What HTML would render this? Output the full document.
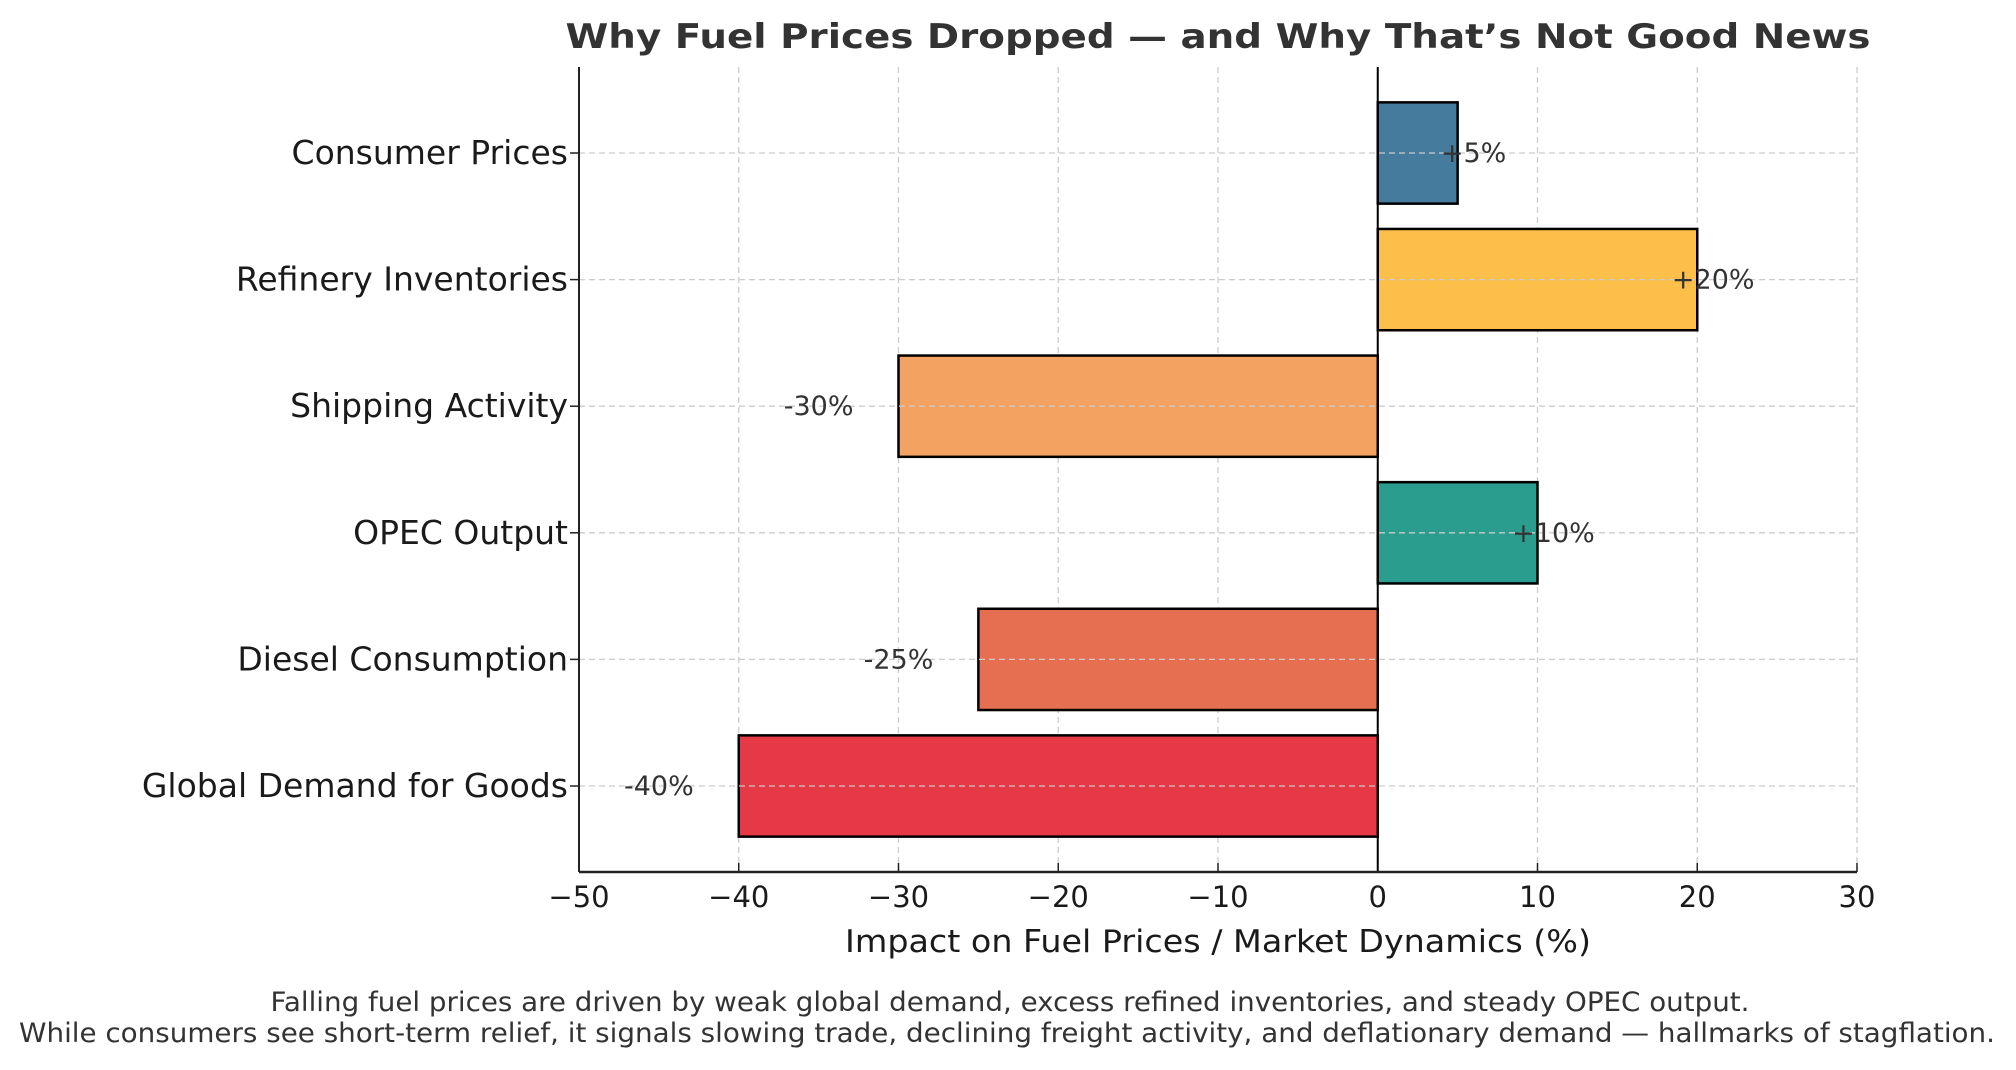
<!DOCTYPE html>
<html><head><meta charset="utf-8"><style>
html,body{margin:0;padding:0;background:#fff;}
svg{display:block;font-family:"DejaVu Sans","Liberation Sans",sans-serif;}
</style></head><body>
<svg id="chart" width="2016" height="1070" viewBox="0 0 2016 1070" xmlns="http://www.w3.org/2000/svg">
<rect width="2016" height="1070" fill="#fff"/>
<text x="1218" y="48" text-anchor="middle" font-size="34" font-weight="bold" fill="#333" textLength="1305" lengthAdjust="spacingAndGlyphs">Why Fuel Prices Dropped — and Why That’s Not Good News</text>
<g id="grid"></g>
<g id="bars"></g>
<g id="axes"></g>
<text x="1218" y="952" text-anchor="middle" font-size="31" fill="#1a1a1a" textLength="746" lengthAdjust="spacingAndGlyphs">Impact on Fuel Prices / Market Dynamics (%)</text>
<text x="1010" y="1011" text-anchor="middle" font-size="27" fill="#333" textLength="1479" lengthAdjust="spacingAndGlyphs">Falling fuel prices are driven by weak global demand, excess refined inventories, and steady OPEC output.</text>
<text x="1007" y="1042" text-anchor="middle" font-size="27" fill="#333" textLength="1976" lengthAdjust="spacingAndGlyphs">While consumers see short-term relief, it signals slowing trade, declining freight activity, and deflationary demand — hallmarks of stagflation.</text>
</svg>
<script>
const categories = ["Global Demand for Goods","Diesel Consumption","OPEC Output","Shipping Activity","Refinery Inventories","Consumer Prices"];
const values = [-40,-25,10,-30,20,5];
const valueLabels = ["-40%","-25%","+10%","-30%","+20%","+5%"];
const colors = ["#e63946","#e76f51","#2a9d8f","#f4a261","#fcbf49","#457b9d"];
const xTicks = [-50,-40,-30,-20,-10,0,10,20,30];
const xTickLabels = ["\u221250","\u221240","\u221230","\u221220","\u221210","0","10","20","30"];

const NS="http://www.w3.org/2000/svg";
const L=579,R=1857,T=67,B=872,XMIN=-50,XMAX=30;
const x=v=>L+(v-XMIN)/(XMAX-XMIN)*(R-L);
const step=126.6;
const y=i=>786-i*step;
function mk(tag,attrs,parent,txt){const e=document.createElementNS(NS,tag);for(const k in attrs)e.setAttribute(k,attrs[k]);if(txt!==undefined)e.textContent=txt;parent.appendChild(e);return e;}
const grid=document.getElementById('grid'),bars=document.getElementById('bars'),axes=document.getElementById('axes');

xTicks.forEach((t,i)=>{
  const g=mk('line',{x1:x(t),x2:x(t),y1:T,y2:B,stroke:'#cccccc','stroke-width':1.3,'stroke-dasharray':'6,4'},grid);
  
  
  const tk=mk('line',{x1:x(t),x2:x(t),y1:B,y2:B-9,stroke:'#222','stroke-width':1.5},axes);
  
  
  const lb=mk('text',{x:x(t),y:907,'text-anchor':'middle','font-size':29,fill:'#1a1a1a'},axes,xTickLabels[i]);
  
  
});

categories.forEach((c,i)=>{
  const cy=y(i),h=step*0.8,v=values[i];
  const r=mk('rect',{x:Math.min(x(0),x(v)),y:cy-h/2,width:Math.abs(x(v)-x(0)),height:h,fill:colors[i],stroke:'#000','stroke-width':2.5},bars);
  
  
  const hg=mk('line',{x1:L,x2:R,y1:cy,y2:cy,stroke:'#cccccc','stroke-width':1.3,'stroke-dasharray':'6,4'},bars);
  
  
  const lx=v>=0?x(v+1):x(v-5);
  const vl=mk('text',{x:lx,y:cy+9,'text-anchor':'middle','font-size':27,fill:'#333'},bars,valueLabels[i]);
  
  
  const tk=mk('line',{x1:L-9,x2:L,y1:cy,y2:cy,stroke:'#222','stroke-width':1.5},axes);
  
  
  const cl=mk('text',{x:568,y:cy+11,'text-anchor':'end','font-size':33,fill:'#1a1a1a'},axes,c);
  
  
});

const zl=mk('line',{x1:x(0),x2:x(0),y1:T,y2:B,stroke:'#000','stroke-width':2},axes);


const ls=mk('line',{x1:L,x2:L,y1:T,y2:B,stroke:'#222','stroke-width':2},axes);


const bs=mk('line',{x1:L,x2:R,y1:B,y2:B,stroke:'#222','stroke-width':2.5},axes);


</script>
</body></html>
